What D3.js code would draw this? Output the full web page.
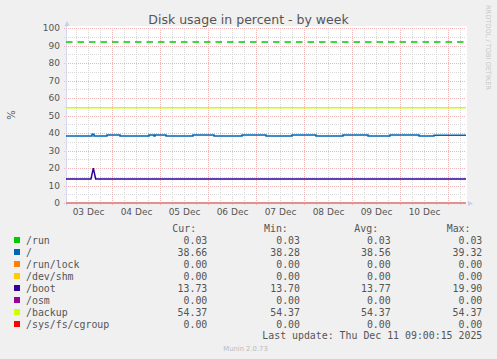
<!DOCTYPE html>
<html><head><meta charset="utf-8">
<script src="https://cdn.jsdelivr.net/npm/d3@7"></script>
<style>
html,body{margin:0;padding:0;background:#f0f0f0;}
svg{display:block;}
</style></head>
<body>
<script>
// ---- data ----
const title = "Disk usage in percent - by week";
const yLabel = "%";
const names = ["/run", "/", "/run/lock", "/dev/shm", "/boot", "/osm", "/backup", "/sys/fs/cgroup"];
const colors = ["#00cc00", "#0066b3", "#ff8000", "#ffcc00", "#330099", "#990099", "#ccff00", "#ff0000"];
const curVals = [0.03, 38.66, 0.00, 0.00, 13.73, 0.00, 54.37, 0.00];
const minVals = [0.03, 38.28, 0.00, 0.00, 13.70, 0.00, 54.37, 0.00];
const avgVals = [0.03, 38.56, 0.00, 0.00, 13.77, 0.00, 54.37, 0.00];
const maxVals = [0.03, 39.32, 0.00, 0.00, 19.90, 0.00, 54.37, 0.00];
const startTime = "2025-12-03T01:00";
const endTime = "2025-12-11T09:00";
const yTicks = [0, 10, 20, 30, 40, 50, 60, 70, 80, 90, 100];
const warningLevel = 92;
const lastUpdate = "Last update: Thu Dec 11 09:00:15 2025";
const version = "Munin 2.0.73";
const watermark = "RRDTOOL / TOBI OETIKER";

const runSeries = [[startTime, 0.03], [endTime, 0.03]];
const rootSeries = [
  ["2025-12-03T01:00", 38.29], ["2025-12-03T14:00", 39.32], ["2025-12-03T15:00", 38.29],
  ["2025-12-03T21:30", 38.80], ["2025-12-04T04:00", 38.29], ["2025-12-04T18:30", 38.80],
  ["2025-12-04T21:00", 38.29], ["2025-12-04T21:30", 38.80], ["2025-12-05T03:00", 38.29],
  ["2025-12-05T16:30", 38.80], ["2025-12-06T03:00", 38.29], ["2025-12-06T17:00", 38.80],
  ["2025-12-07T05:00", 38.29], ["2025-12-07T18:00", 38.80], ["2025-12-08T06:00", 38.29],
  ["2025-12-08T19:30", 38.80], ["2025-12-09T08:00", 38.29], ["2025-12-09T19:00", 38.80],
  ["2025-12-10T09:30", 38.29], ["2025-12-10T17:00", 38.66], ["2025-12-11T09:00", 38.66]
];
const runLockSeries = [[startTime, 0], [endTime, 0]];
const devShmSeries = [[startTime, 0], [endTime, 0]];
const bootSeries = [
  [startTime, 13.73], ["2025-12-03T13:30", 13.73], ["2025-12-03T14:40", 19.90],
  ["2025-12-03T15:50", 13.70], [endTime, 13.73]
];
const osmSeries = [[startTime, 0], [endTime, 0]];
const backupSeries = [[startTime, 54.37], [endTime, 54.37]];
const cgroupSeries = [[startTime, 0], [endTime, 0]];

// ---- drawing ----
const W = 497, H = 359;
const plot = {left: 66, right: 466, top: 28, bottom: 203};
const parse = s => new Date(s);
const x = d3.scaleTime().domain([parse(startTime), parse(endTime)]).range([plot.left, plot.right]);
const y = d3.scaleLinear().domain([0, 100]).range([plot.bottom, plot.top]);

const svg = d3.select("body").append("svg").attr("width", W).attr("height", H)
  .style("font-family", "'DejaVu Sans', sans-serif");
svg.append("rect").attr("width", W).attr("height", H).attr("fill", "#f0f0f0");
svg.append("rect").attr("x", plot.left).attr("y", plot.top - 2)
  .attr("width", plot.right - plot.left + 1).attr("height", plot.bottom - plot.top + 2)
  .attr("fill", "#ffffff");

const minorCol = "#d8d8d8", majorCol = "#efb4b4";
const grid = svg.append("g").attr("shape-rendering", "crispEdges");
// minor horizontal (every 5)
const yMinor = d3.range(5, 100, 10);
grid.selectAll(".hmin").data(yMinor).join("line")
  .attr("x1", plot.left - 2).attr("x2", plot.right)
  .attr("y1", d => Math.round(y(d)) + 0.5).attr("y2", d => Math.round(y(d)) + 0.5)
  .attr("stroke", minorCol).attr("stroke-dasharray", "1,1");
// minor vertical (every 6h)
const t0 = parse(startTime), t1 = parse(endTime);
const xMinor = d3.timeHour.every(6).range(t0, t1).filter(d => d.getHours() !== 0);
grid.selectAll(".vmin").data(xMinor).join("line")
  .attr("x1", d => Math.round(x(d)) + 0.5).attr("x2", d => Math.round(x(d)) + 0.5)
  .attr("y1", plot.top).attr("y2", plot.bottom + 2)
  .attr("stroke", minorCol).attr("stroke-dasharray", "1,1");
// major horizontal
grid.selectAll(".hmaj").data(yTicks).join("line")
  .attr("x1", plot.left - 2).attr("x2", plot.right)
  .attr("y1", d => Math.round(y(d)) + 0.5).attr("y2", d => Math.round(y(d)) + 0.5)
  .attr("stroke", majorCol).attr("stroke-dasharray", "1,1");
// major vertical (midnights)
const xMajor = d3.timeDay.range(t0, t1);
grid.selectAll(".vmaj").data(xMajor).join("line")
  .attr("x1", d => Math.round(x(d)) + 0.5).attr("x2", d => Math.round(x(d)) + 0.5)
  .attr("y1", plot.top).attr("y2", plot.bottom + 3)
  .attr("stroke", majorCol).attr("stroke-dasharray", "1,1");

// axis lines and arrows
svg.append("line").attr("x1", plot.left + 0.5).attr("x2", plot.left + 0.5)
  .attr("y1", plot.top - 3).attr("y2", plot.bottom + 3)
  .attr("stroke", "#d6d6f0").attr("shape-rendering", "crispEdges");
svg.append("path").attr("d", `M${plot.left - 1.5},${plot.top - 2} L${plot.left + 3.5},${plot.top - 2} L${plot.left + 1},${plot.top - 7} Z`)
  .attr("fill", "#ccccf0");
svg.append("path").attr("d", `M${plot.right + 2},${plot.bottom - 2} L${plot.right + 2},${plot.bottom + 3} L${plot.right + 7},${plot.bottom + 0.5} Z`)
  .attr("fill", "#ccccf0");

// Y axis labels
const yAxis = d3.axisLeft(y).tickValues(yTicks).tickSize(0).tickPadding(6);
const ya = svg.append("g").attr("transform", `translate(${plot.left},0)`).call(yAxis);
ya.select(".domain").remove();
ya.selectAll("text").attr("fill", "#555").style("font-size", "9px").style("font-family", "'DejaVu Sans', sans-serif");

// X axis labels (noon of each day)
const noons = d3.timeDay.range(d3.timeDay.floor(t0), t1).map(d => d3.timeHour.offset(d, 12)).filter(d => d >= t0 && d <= t1);
const xAxis = d3.axisBottom(x).tickValues(noons).tickSize(0).tickPadding(5.5).tickFormat(d3.timeFormat("%d %b"));
const xa = svg.append("g").attr("transform", `translate(0,${plot.bottom})`).call(xAxis);
xa.select(".domain").remove();
xa.selectAll("text").attr("fill", "#555").style("font-size", "9px").style("font-family", "'DejaVu Sans', sans-serif");

// warning line
svg.append("line").attr("x1", plot.left).attr("x2", plot.right)
  .attr("y1", y(warningLevel)).attr("y2", y(warningLevel))
  .attr("stroke", colors[0]).attr("stroke-width", 1.6).attr("stroke-dasharray", "6.5,5");

// series
const allSeries = [runSeries, rootSeries, runLockSeries, devShmSeries, bootSeries, osmSeries, backupSeries, cgroupSeries];
const curves = [d3.curveLinear, d3.curveStepAfter, d3.curveLinear, d3.curveLinear, d3.curveLinear, d3.curveLinear, d3.curveLinear, d3.curveLinear];
const lg = svg.append("g");
allSeries.forEach((s, i) => {
  const line = d3.line().x(d => x(parse(d[0]))).y(d => y(d[1])).curve(curves[i]);
  lg.append("path").datum(s).attr("d", line).attr("fill", "none")
    .attr("stroke", i === 7 ? "#e49090" : colors[i]).attr("stroke-width", i === 7 ? 2 : 1.5);
});

// title
svg.append("text").attr("x", 248.5).attr("y", 24).attr("text-anchor", "middle")
  .attr("fill", "#555").style("font-size", "12.5px").text(title);
// y label
svg.append("text").attr("transform", "translate(15,115) rotate(-90)").attr("text-anchor", "middle")
  .attr("fill", "#555").style("font-size", "10px").text(yLabel);
// watermark
svg.append("text").attr("transform", "translate(485.5,5) rotate(90)").attr("text-anchor", "start")
  .attr("fill", "#c8c8c8").style("font-size", "6.6px").text(watermark);

// legend
const mono = "'DejaVu Sans Mono', monospace";
const leg = svg.append("g").style("font-family", mono).style("font-size", "9.9px").attr("fill", "#555");
const headers = [["Cur:", 172.3], ["Min:", 264], ["Avg:", 354.3], ["Max:", 446.7]];
headers.forEach(h => leg.append("text").attr("x", h[1]).attr("y", 231.5).text(h[0]));
const colRight = [207.3, 300, 390.7, 482.3];
const fmt = d3.format(".2f");
names.forEach((n, i) => {
  const cy = 240 + i * 12;
  leg.append("rect").attr("x", 14).attr("y", cy - 3).attr("width", 6).attr("height", 6).attr("fill", colors[i]);
  leg.append("text").attr("x", 26).attr("y", cy + 3.5).text(n);
  [curVals, minVals, avgVals, maxVals].forEach((arr, j) => {
    leg.append("text").attr("x", colRight[j]).attr("y", cy + 3.5).attr("text-anchor", "end").text(fmt(arr[i]));
  });
});
leg.append("text").attr("x", 482.3).attr("y", 338.5).attr("text-anchor", "end").text(lastUpdate);
svg.append("text").attr("x", 245.5).attr("y", 350.5).attr("text-anchor", "middle")
  .attr("fill", "#bbb").style("font-size", "6.8px").text(version);
</script>
</body></html>
